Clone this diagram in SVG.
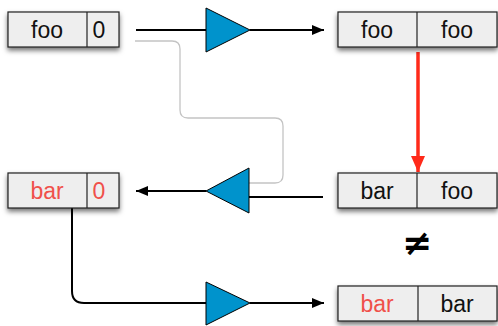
<svg xmlns="http://www.w3.org/2000/svg" width="498" height="326" viewBox="0 0 498 326">
  <defs>
    <filter id="shadow" x="-10%" y="-20%" width="120%" height="160%">
      <feDropShadow dx="0" dy="3" stdDeviation="2.5" flood-color="#000" flood-opacity="0.55"/>
    </filter>
    <marker id="arrow" viewBox="0 0 12 10" refX="12" refY="5" markerWidth="12" markerHeight="10" markerUnits="userSpaceOnUse" orient="auto">
      <path d="M0,0 L12,5 L0,10 Z" fill="#000"/>
    </marker>
    <marker id="arrow-red" viewBox="0 0 16 14" refX="16" refY="7" markerWidth="16" markerHeight="14" markerUnits="userSpaceOnUse" orient="auto">
      <path d="M0,0 L16,7 L0,14 Z" fill="#ff2a1a"/>
    </marker>
  </defs>
  <style>
    .cell { fill: #eeeeee; stroke: #222; stroke-width: 1.2; }
    .div { stroke: #222; stroke-width: 1.2; }
    .lbl { font-family: "Liberation Sans", Arial, sans-serif; font-size: 23px; fill: #111; text-anchor: middle; }
    .red { fill: #f0504a; }
    .wire { fill: none; stroke: #000; stroke-width: 2; }
    .gray { fill: none; stroke: #c4c4c4; stroke-width: 1.3; }
    .amp { fill: #0093cc; stroke: #000; stroke-width: 1; }
  </style>

  <!-- connectors -->
  <g id="connectors">
    <path class="gray" d="M135,41 H172 Q180,41 180,49 V110 Q180,118 188,118 H275 Q283,118 283,126 V175 Q283,183 275,183 H249"/>
    <path class="wire" d="M136,30 H206" />
    <path class="wire" d="M250,30 H324" marker-end="url(#arrow)"/>
    <path class="wire" d="M323,197 H249"/>
    <path class="wire" d="M206,191 H136" marker-end="url(#arrow)"/>
    <path class="wire" d="M72,208 V291 Q72,303 84,303 H206"/>
    <path class="wire" d="M250,303 H324" marker-end="url(#arrow)"/>
    <path fill="none" stroke="#ff2a1a" stroke-width="3.5" d="M418,52 V172" marker-end="url(#arrow-red)"/>
    <polygon class="amp" points="206,8 250,30 206,52"/>
    <polygon class="amp" points="249,168 206,191 249,213"/>
    <polygon class="amp" points="206,282 250,303 206,325"/>
  </g>

  <g id="src-top">
    <rect class="cell" x="8" y="12" width="111" height="35" filter="url(#shadow)"/>
    <line class="div" x1="87" y1="12" x2="87" y2="47"/>
    <text class="lbl" x="47" y="38">foo</text>
    <text class="lbl" x="99" y="38">0</text>
  </g>

  <g id="dst-top">
    <rect class="cell" x="338" y="12" width="159" height="35" filter="url(#shadow)"/>
    <line class="div" x1="417" y1="12" x2="417" y2="47"/>
    <text class="lbl" x="377" y="38">foo</text>
    <text class="lbl" x="457" y="38">foo</text>
  </g>

  <g id="src-mid">
    <rect class="cell" x="8" y="173" width="111" height="35" filter="url(#shadow)"/>
    <line class="div" x1="87" y1="173" x2="87" y2="208"/>
    <text class="lbl red" x="47" y="199">bar</text>
    <text class="lbl red" x="99" y="199">0</text>
  </g>

  <g id="dst-mid">
    <rect class="cell" x="338" y="173" width="159" height="35" filter="url(#shadow)"/>
    <line class="div" x1="417" y1="173" x2="417" y2="208"/>
    <text class="lbl" x="377" y="199">bar</text>
    <text class="lbl" x="457" y="199">foo</text>
  </g>

  <g id="not-equal">
    <text x="417" y="255" font-family="'DejaVu Sans', sans-serif" font-size="36" font-weight="bold" text-anchor="middle" fill="#000">≠</text>
  </g>

  <g id="dst-bottom">
    <rect class="cell" x="338" y="286" width="159" height="35" filter="url(#shadow)"/>
    <line class="div" x1="418" y1="286" x2="418" y2="321"/>
    <text class="lbl red" x="377" y="312">bar</text>
    <text class="lbl" x="457" y="312">bar</text>
  </g>
</svg>
